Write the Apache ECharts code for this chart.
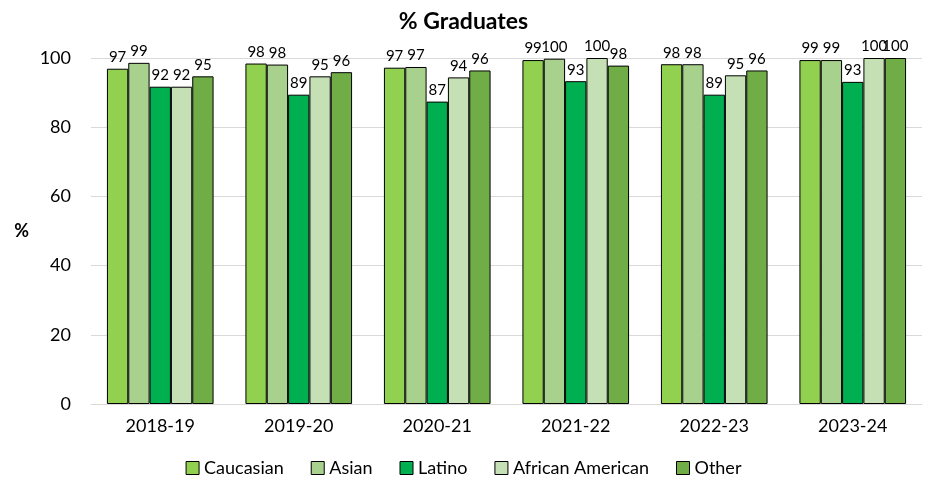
<!DOCTYPE html>
<html><head><meta charset="utf-8">
<script src="https://cdn.jsdelivr.net/npm/echarts@6/dist/echarts.min.js"></script>
<style>html,body{margin:0;padding:0;background:#fff}#c{width:927px;height:484px}</style>
</head><body><div id="c"></div>
<script>
const categories = ['2018-19','2019-20','2020-21','2021-22','2022-23','2023-24'];
const seriesNames = ['Caucasian','Asian','Latino','African American','Other'];
const caucasian = [96.9, 98.4, 97.2, 99.4, 98.2, 99.4];
const asian = [98.6, 98.1, 97.4, 99.8, 98.2, 99.4];
const latino = [91.7, 89.4, 87.4, 93.3, 89.4, 93.1];
const africanAmerican = [91.7, 94.7, 94.4, 100, 95.0, 100];
const other = [94.7, 95.9, 96.4, 97.8, 96.4, 100];
const colors = ['#92D050','#A9D18E','#00B050','#C5E0B4','#70AD47'];
const font = 'Lato, "Open Sans", sans-serif';
const allData = [caucasian, asian, latino, africanAmerican, other];
const chart = echarts.init(document.getElementById('c'));
chart.setOption({
  animation: false,
  title: {text: '% Graduates', left: 'center', top: 5, textStyle: {fontFamily: font, fontSize: 23, fontWeight: 'bold', color: '#000'}},
  legend: {bottom: 2, left: 'center', icon: 'rect', itemWidth: 13, itemHeight: 13, itemGap: 27,
    textStyle: {fontFamily: font, fontSize: 18, color: '#000'},
    data: seriesNames.map((n,i)=>({name:n, itemStyle:{color:colors[i], borderColor:'#000', borderWidth:1}}))},
  grid: {left: 91, right: 5, top: 58, bottom: 80},
  xAxis: {type: 'category', data: categories,
    axisLine: {lineStyle: {color: '#d9d9d9', width: 1}}, axisTick: {show: false},
    axisLabel: {fontFamily: font, fontSize: 18, color: '#000', margin: 13}},
  yAxis: {type: 'value', min: 0, max: 100, interval: 20,
    name: '%', nameLocation: 'middle', nameGap: 62, nameRotate: 0,
    nameTextStyle: {fontFamily: font, fontSize: 18, fontWeight: 'bold', color: '#000'},
    axisLabel: {fontFamily: font, fontSize: 18, color: '#000', margin: 20},
    splitLine: {lineStyle: {color: '#d9d9d9'}}},
  series: allData.map((d,i)=>({
    name: seriesNames[i], type: 'bar', data: d, barGap: '0%', barCategoryGap: '23%',
    itemStyle: {color: colors[i], borderColor: '#000', borderWidth: 1},
    label: {show: true, position: 'top', distance: 4, fontFamily: font, fontSize: 15, color: '#000',
      formatter: p => Math.round(p.value)}
  }))
});
</script></body></html>
